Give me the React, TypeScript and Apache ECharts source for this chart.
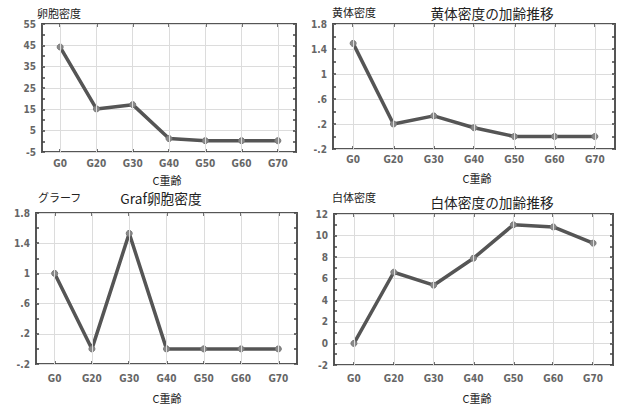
import React, { useEffect, useRef } from "react";
import * as echarts from "echarts";

const categories = ["G0", "G20", "G30", "G40", "G50", "G60", "G70"];
const follicleDensity = [44.2, 15.2, 17.2, 1.3, 0.3, 0.3, 0.3];
const lutealDensity = [1.49, 0.2, 0.33, 0.14, 0.0, 0.0, 0.0];
const graafDensity = [1.0, 0.0, 1.53, 0.0, 0.0, 0.0, 0.0];
const albicansDensity = [0.0, 6.6, 5.4, 7.9, 11.0, 10.8, 9.3];

const yRanges = [
  { min: -5, max: 55, interval: 10 },
  { min: -0.2, max: 1.8, interval: 0.4 },
  { min: -0.2, max: 1.8, interval: 0.4 },
  { min: -2, max: 12, interval: 2 },
];
const yNames = ["卵胞密度", "黄体密度", "グラーフ", "白体密度"];
const titles = ["", "黄体密度の加齢推移", "Graf卵胞密度", "白体密度の加齢推移"];
const xName = "C重齢";
const seriesData = [follicleDensity, lutealDensity, graafDensity, albicansDensity];

const layouts = [
  { left: 42, top: 24, width: 254, height: 128, xMargin: 6, yNameX: 37, yNameY: 14, titleX: 0, titleY: 0, xNameX: 167, xNameY: 180 },
  { left: 333, top: 24, width: 282, height: 125, xMargin: 5, yNameX: 332, yNameY: 13, titleX: 492, titleY: 13, xNameX: 477, xNameY: 178 },
  { left: 36, top: 213, width: 261, height: 151, xMargin: 9, yNameX: 38, yNameY: 198, titleX: 161, titleY: 198, xNameX: 167, xNameY: 398 },
  { left: 334, top: 214, width: 279, height: 151, xMargin: 8, yNameX: 332, yNameY: 198, titleX: 492, titleY: 202, xNameX: 477, xNameY: 398 },
];

const tickFont = "'Liberation Sans Narrow', 'DejaVu Sans Condensed', 'DejaVu Sans', sans-serif";
const cjkFont = "'Noto Sans CJK JP', 'Noto Sans', sans-serif";

function fmt(v: number): string {
  let s = String(+v.toFixed(2));
  s = s.replace(/^0\./, ".").replace(/^-0\./, "-.");
  return s;
}

export default function App() {
  const ref = useRef<HTMLDivElement>(null);
  useEffect(() => {
    if (!ref.current) return;
    const chart = echarts.init(ref.current, undefined, { renderer: "svg" });
    const grid: any[] = [];
    const xAxis: any[] = [];
    const yAxis: any[] = [];
    const series: any[] = [];
    const graphic: any[] = [];
    const tickLine = { color: "#444", width: 1.5 };
    const splitColor = "#dcdcdc";
    layouts.forEach((L, i) => {
      const r = yRanges[i];
      grid.push({
        left: L.left, top: L.top, width: L.width, height: L.height,
        show: true, borderColor: "#555", borderWidth: 2, backgroundColor: "transparent",
      });
      xAxis.push({
        type: "category", gridIndex: i, data: categories, boundaryGap: true, position: "bottom",
        axisLine: { show: false, onZero: false },
        axisTick: { show: true, inside: true, alignWithLabel: true, length: 3, lineStyle: tickLine },
        axisLabel: { margin: L.xMargin, color: "#666", fontSize: 10, fontWeight: "bold", fontFamily: tickFont },
        splitLine: { show: false },
      });
      xAxis.push({
        type: "category", gridIndex: i, data: categories, boundaryGap: true, position: "top",
        axisLine: { show: false, onZero: false },
        axisTick: { show: true, inside: true, alignWithLabel: true, length: 3, lineStyle: tickLine },
        axisLabel: { show: false },
        splitLine: { show: false },
      });
      const yBase = {
        type: "value", gridIndex: i, min: r.min, max: r.max, interval: r.interval,
        axisLine: { show: false, onZero: false },
        axisTick: { show: true, inside: true, length: 3, lineStyle: tickLine },
        minorTick: { show: true, splitNumber: 2, length: 3, lineStyle: tickLine },
      };
      yAxis.push({
        ...yBase, position: "left",
        axisLabel: { margin: 6, color: "#666", fontSize: 10, fontWeight: "bold", fontFamily: tickFont, formatter: (v: number) => fmt(v) },
        splitLine: { show: true, lineStyle: { color: splitColor, width: 1 } },
      });
      yAxis.push({
        ...yBase, position: "right",
        axisLabel: { show: false },
        splitLine: { show: false },
      });
      series.push({
        type: "line", xAxisIndex: 2 * i, yAxisIndex: 2 * i, data: [],
        silent: true, z: 1,
        markLine: {
          silent: true, symbol: "none", animation: false,
          label: { show: false },
          lineStyle: { color: splitColor, width: 1, type: "solid" },
          emphasis: { disabled: true },
          data: categories.map((c) => ({ xAxis: c })),
        },
      });
      series.push({
        type: "line", xAxisIndex: 2 * i, yAxisIndex: 2 * i, data: seriesData[i],
        symbol: "circle", symbolSize: 6, showSymbol: true,
        lineStyle: { color: "#555", width: 3.5 },
        itemStyle: { color: "#8a8a8a", borderColor: "#777", borderWidth: 1 },
        z: 3,
      });
      graphic.push({
        type: "text", left: L.yNameX, top: L.yNameY - 7,
        style: { text: yNames[i], fontSize: 11, fill: "#222", fontFamily: cjkFont },
      });
      if (titles[i]) {
        graphic.push({
          type: "text", x: L.titleX, y: L.titleY,
          style: { text: titles[i], fontSize: 13.7, fill: "#222", fontFamily: cjkFont, align: "center", verticalAlign: "middle" },
        });
      }
      graphic.push({
        type: "text", x: L.xNameX, y: L.xNameY,
        style: { text: xName, fontSize: 11, fill: "#222", fontFamily: cjkFont, align: "center", verticalAlign: "middle" },
      });
    });
    chart.setOption({
      animation: false,
      backgroundColor: "#fff",
      grid, xAxis, yAxis, series, graphic,
    });
    return () => chart.dispose();
  }, []);
  return <div ref={ref} style={{ position: "absolute", left: 0, top: 0, width: 620, height: 405 }} />;
}
